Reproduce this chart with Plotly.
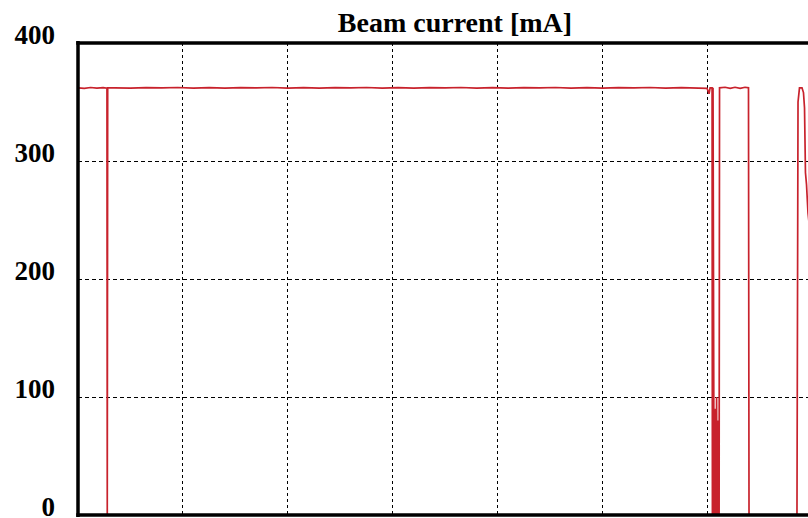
import plotly.graph_objects as go

# time in hours (grid every 1 h), beam current in mA
time_h = [
    0.00, 0.06, 0.12, 0.18, 0.24, 0.276, 0.279, 0.283,
    0.35, 0.50, 0.65, 0.80, 0.95, 1.10, 1.25, 1.40, 1.55, 1.70, 1.85, 2.00,
    2.15, 2.30, 2.45, 2.60, 2.75, 2.90, 3.05, 3.20, 3.35, 3.50, 3.65, 3.80,
    3.95, 4.10, 4.25, 4.40, 4.55, 4.70, 4.85, 5.00, 5.15, 5.30, 5.45, 5.60,
    5.75, 5.90, 5.995, 6.014, 6.024,
    6.043, 6.046, 6.052, 6.062, 6.066, 6.071, 6.076, 6.081, 6.086, 6.090,
    6.095, 6.100, 6.105, 6.110, 6.114,
    6.167, 6.215, 6.262, 6.310, 6.357, 6.390, 6.395,
    6.852, 6.862, 6.876, 6.900, 6.914, 6.924, 6.933, 6.943, 6.957, 6.976,
]
current_mA = [
    362, 361.6, 362.3, 361.8, 362.1, 361.7, 0, 362,
    362, 361.7, 362.2, 361.9, 362.3, 361.8, 362.1, 361.7, 362.2, 361.9, 362.3, 361.8,
    362.1, 361.7, 362.2, 361.9, 362.3, 361.8, 362.1, 361.7, 362.2, 361.9, 362.3, 361.8,
    362.1, 361.7, 362.2, 361.9, 362.3, 361.8, 362.1, 361.7, 362.2, 361.9, 362.3, 361.8,
    362.1, 361.8, 361.6, 357, 362,
    362, 0, 362, 0, 60, 0, 90, 0, 100, 0,
    80, 0, 60, 0, 362,
    362.5, 361.5, 362.5, 361.5, 362.5, 362, 0,
    0, 350, 362, 362, 358, 345, 290, 280, 256, 240,
]

y_ticks = [0, 100, 200, 300, 400]
title_text = "Beam current [mA]"

fig = go.Figure()
fig.add_trace(go.Scatter(
    x=time_h, y=current_mA, mode="lines",
    line=dict(color="#c8222c", width=1.7),
    hoverinfo="skip", showlegend=False,
))

font_family = "Liberation Serif, Times New Roman, serif"

# frame (left, top, bottom) drawn above the trace
frame = dict(type="line", xref="paper", yref="paper", layer="above",
             line=dict(color="black", width=3.5))
fig.add_shape(frame, x0=0, x1=0, y0=-0.004, y1=1.004)
fig.add_shape(frame, x0=-0.0024, x1=1.01, y0=1, y1=1)
fig.add_shape(frame, x0=-0.0024, x1=1.01, y0=0, y1=0)

fig.update_layout(
    width=808, height=518,
    margin=dict(l=77.5, r=0, t=42.5, b=3, autoexpand=False),
    paper_bgcolor="white", plot_bgcolor="white",
    showlegend=False,
    title=dict(
        text="<b>" + title_text + "</b>",
        x=455 / 808, xanchor="center", xref="container",
        y=1 - 22 / 518, yanchor="middle", yref="container",
        font=dict(family=font_family, size=28, color="black"),
    ),
    xaxis=dict(
        range=[0, (808 - 77.5) / 105],
        tick0=0, dtick=1,
        showticklabels=False, ticks="",
        showgrid=True, gridcolor="black", gridwidth=1, griddash="3px,3px",
        showline=False, zeroline=False, automargin=False,
    ),
    yaxis=dict(
        range=[0, 400],
        tickvals=y_ticks,
        ticktext=["<b>%d</b>" % v for v in y_ticks],
        tickfont=dict(family=font_family, size=27, color="black"),
        ticks="", ticklabelstandoff=22, ticklabelshift=-8,
        ticklabeloverflow="allow",
        showgrid=True, gridcolor="black", gridwidth=1, griddash="4px,3px",
        showline=False, zeroline=False, automargin=False,
    ),
)

fig.write_html("out.html")
